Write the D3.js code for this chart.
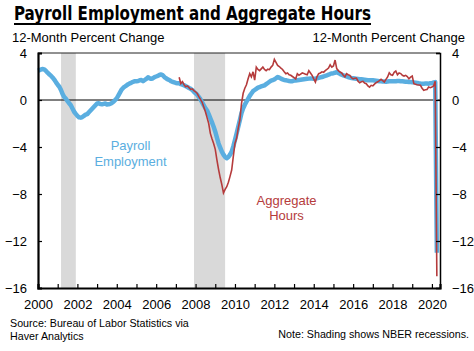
<!DOCTYPE html>
<html>
<head>
<meta charset="utf-8">
<script src="https://cdn.jsdelivr.net/npm/d3@7"></script>
<style>
  body { margin: 0; background: #fff; }
  svg { display: block; font-family: "Liberation Sans", Arial, sans-serif; }
</style>
</head>
<body>
<div id="chart"></div>
<script>
// monthly 12-month % change, payroll from Jan 2000, hours from Mar 2007
var payroll = [
  2.50, 2.55, 2.60, 2.64, 2.58, 2.45, 2.30, 2.17, 2.05, 1.90, 1.72, 1.50,
  1.30, 1.13, 0.85, 0.50, 0.25, 0.10, -0.10, -0.28, -0.45, -0.72, -1.00, -1.18,
  -1.35, -1.48, -1.50, -1.45, -1.35, -1.25, -1.20, -1.05, -0.90, -0.75, -0.60, -0.45,
  -0.30, -0.28, -0.35, -0.37, -0.33, -0.30, -0.38, -0.37, -0.33, -0.25, -0.15, 0.00,
  0.15, 0.40, 0.65, 0.90, 1.05, 1.15, 1.25, 1.35, 1.42, 1.48, 1.55, 1.60,
  1.60, 1.62, 1.68, 1.70, 1.60, 1.70, 1.80, 1.93, 1.85, 1.80, 1.85, 1.95,
  2.00, 2.05, 2.13, 2.18, 2.10, 1.95, 1.85, 1.76, 1.70, 1.60, 1.55, 1.50,
  1.45, 1.42, 1.42, 1.35, 1.30, 1.25, 1.18, 1.10, 1.02, 0.95, 0.85, 0.70,
  0.57, 0.45, 0.25, 0.05, -0.20, -0.45, -0.70, -0.90, -1.20, -1.55, -1.90, -2.27,
  -2.70, -3.20, -3.70, -4.05, -4.40, -4.65, -4.85, -4.96, -4.85, -4.65, -4.40, -3.95,
  -3.40, -2.85, -2.27, -1.70, -1.10, -0.70, -0.40, -0.15, 0.10, 0.35, 0.55, 0.75,
  0.85, 0.95, 1.05, 1.10, 1.15, 1.20, 1.25, 1.35, 1.45, 1.55, 1.65, 1.70,
  1.75, 1.85, 1.96, 1.90, 1.82, 1.76, 1.70, 1.68, 1.65, 1.62, 1.60, 1.60,
  1.65, 1.66, 1.68, 1.70, 1.72, 1.74, 1.76, 1.78, 1.80, 1.82, 1.84, 1.82,
  1.80, 1.82, 1.85, 1.88, 1.92, 1.96, 2.00, 2.05, 2.10, 2.15, 2.22, 2.26,
  2.28, 2.32, 2.38, 2.30, 2.22, 2.15, 2.10, 2.05, 2.00, 1.95, 1.90, 1.87,
  1.85, 1.83, 1.80, 1.78, 1.76, 1.76, 1.74, 1.72, 1.70, 1.68, 1.68, 1.68,
  1.68, 1.66, 1.64, 1.62, 1.60, 1.60, 1.58, 1.58, 1.56, 1.58, 1.60, 1.59,
  1.59, 1.60, 1.60, 1.62, 1.62, 1.60, 1.60, 1.58, 1.56, 1.55, 1.53, 1.53,
  1.52, 1.50, 1.48, 1.45, 1.42, 1.40, 1.39, 1.39, 1.40, 1.40, 1.39, 1.42,
  1.42, 1.50, 1.52, -13.0
];
var payrollStart = [2000, 0];

var hours = [
  1.93, 1.40, 1.56, 1.30, 1.13, 1.20, 1.05, 0.90, 0.95, 0.80,
  0.70, 0.55, 0.28, 0.05, -0.20, -0.60, -1.00, -1.50, -2.00, -2.84, -3.30, -3.70,
  -4.20, -5.10, -5.90, -6.60, -7.20, -7.90, -7.60, -7.38, -7.00, -6.50, -5.96, -4.80,
  -3.70, -3.26, -2.40, -1.70, -0.28, 0.57, 1.00, 1.30, 1.80, 2.24, 1.96, 2.40,
  1.70, 2.80, 2.60, 2.50, 2.65, 2.80, 2.60, 2.50, 2.62, 2.58, 2.80, 2.95,
  3.46, 3.20, 2.95, 2.85, 2.72, 2.60, 2.40, 2.24, 2.30, 2.15, 2.10, 2.00,
  1.90, 1.80, 2.24, 2.10, 2.20, 2.30, 2.25, 2.20, 2.15, 2.50, 2.30, 2.10,
  1.80, 1.53, 2.00, 2.24, 2.30, 2.40, 2.35, 2.50, 2.60, 2.72, 3.00, 2.80,
  2.90, 3.40, 2.67, 2.50, 2.38, 2.30, 2.10, 1.96, 2.24, 2.15, 2.10, 1.90,
  1.80, 1.85, 1.87, 1.60, 1.47, 1.55, 1.59, 1.45, 1.39, 1.20, 1.10, 1.25,
  1.20, 1.35, 1.47, 1.55, 1.65, 1.76, 1.65, 1.53, 1.75, 1.96, 2.32, 2.15,
  2.10, 2.35, 2.47, 2.15, 2.30, 2.25, 2.10, 2.04, 2.10, 2.00, 1.80, 1.95,
  2.04, 1.39, 1.35, 1.30, 1.28, 1.25, 1.00, 0.82, 0.88, 0.90, 1.10, 1.05,
  1.10, 1.20, 1.60, -15.0
];
var hoursStart = [2007, 2];

var recessions = [[2001.17, 2001.92], [2007.92, 2009.5]];
var yTicks = [-16, -12, -8, -4, 0, 4];
var yearTicks = d3.range(2000, 2021);
var yearLabels = d3.range(2000, 2021, 2);

var width = 474, height = 351;
var margin = { top: 53, right: 34, bottom: 63, left: 38 };

var x = d3.scaleLinear().domain([2000, 2020.41]).range([margin.left, width - margin.right]);
var y = d3.scaleLinear().domain([-16, 4]).range([height - margin.bottom, margin.top]);

var toPoints = (vals, start) => vals.map((v, i) => ({ t: start[0] + (start[1] + i) / 12, v: v }));

var blue = "#5aaee0", red = "#b53b3c";

var svg = d3.select("#chart").append("svg")
    .attr("width", width)
    .attr("height", height);

// title
svg.append("text")
    .attr("x", 14).attr("y", 20)
    .attr("font-family", "'DejaVu Sans Condensed', 'DejaVu Sans', sans-serif")
    .attr("font-weight", "bold")
    .attr("font-size", 19)
    .attr("textLength", 357)
    .attr("lengthAdjust", "spacingAndGlyphs")
    .text("Payroll Employment and Aggregate Hours");
svg.append("line")
    .attr("x1", 14).attr("x2", 371)
    .attr("y1", 24).attr("y2", 24)
    .attr("stroke", "#000").attr("stroke-width", 2);

svg.append("text").attr("x", 12).attr("y", 42).attr("font-size", 13)
    .text("12-Month Percent Change");
svg.append("text").attr("x", 465).attr("y", 42).attr("font-size", 13)
    .attr("text-anchor", "end")
    .text("12-Month Percent Change");

// recession shading
svg.append("g").selectAll("rect")
    .data(recessions)
    .enter().append("rect")
    .attr("x", d => x(d[0]))
    .attr("width", d => x(d[1]) - x(d[0]))
    .attr("y", y(4))
    .attr("height", y(-16) - y(4))
    .attr("fill", "#d9d9d9");

// zero line
svg.append("line")
    .attr("x1", x.range()[0]).attr("x2", x.range()[1])
    .attr("y1", y(0)).attr("y2", y(0))
    .attr("stroke", "#000").attr("stroke-width", 1);

var line = d3.line().x(d => x(d.t)).y(d => y(d.v));

svg.append("path")
    .datum(toPoints(payroll, payrollStart))
    .attr("fill", "none")
    .attr("stroke", blue)
    .attr("stroke-width", 4.5)
    .attr("stroke-linejoin", "round")
    .attr("d", line);

svg.append("path")
    .datum(toPoints(hours, hoursStart))
    .attr("fill", "none")
    .attr("stroke", red)
    .attr("stroke-width", 1.6)
    .attr("d", line);

// frame
svg.append("line")
    .attr("x1", x.range()[0]).attr("x2", x.range()[1])
    .attr("y1", y(4)).attr("y2", y(4))
    .attr("stroke", "#222").attr("stroke-width", 1);

svg.append("g")
    .attr("transform", `translate(${x.range()[0]},0)`)
    .call(d3.axisLeft(y).tickValues(yTicks).tickSize(-4).tickPadding(11))
    .call(g => g.select(".domain").attr("stroke-width", 2.2))
    .call(g => g.selectAll(".tick line").attr("stroke-width", 1.2))
    .call(g => g.selectAll("text").attr("font-size", 13).attr("font-family", "Liberation Sans, Arial, sans-serif"));

svg.append("g")
    .attr("transform", `translate(${x.range()[1]},0)`)
    .call(d3.axisRight(y).tickValues(yTicks).tickSize(-4).tickPadding(12))
    .call(g => g.select(".domain").attr("stroke-width", 1.5))
    .call(g => g.selectAll(".tick line").attr("stroke-width", 1.2))
    .call(g => g.selectAll("text").attr("font-size", 13).attr("font-family", "Liberation Sans, Arial, sans-serif"));

svg.append("g")
    .attr("transform", `translate(0,${y(-16)})`)
    .call(d3.axisBottom(x).tickValues(yearTicks).tickSize(-4).tickPadding(12)
        .tickFormat(d => yearLabels.includes(d) ? d : ""))
    .call(g => g.select(".domain").attr("stroke-width", 2.2))
    .call(g => g.selectAll(".tick line").attr("stroke-width", 1.2))
    .call(g => g.selectAll("text").attr("font-size", 13).attr("font-family", "Liberation Sans, Arial, sans-serif"));

// series labels
svg.append("text").attr("x", 130.5).attr("y", 150).attr("text-anchor", "middle")
    .attr("font-size", 13).attr("fill", blue).text("Payroll");
svg.append("text").attr("x", 130.5).attr("y", 166).attr("text-anchor", "middle")
    .attr("font-size", 13).attr("fill", blue).text("Employment");
svg.append("text").attr("x", 286.5).attr("y", 205).attr("text-anchor", "middle")
    .attr("font-size", 13).attr("fill", red).text("Aggregate");
svg.append("text").attr("x", 286.5).attr("y", 220).attr("text-anchor", "middle")
    .attr("font-size", 13).attr("fill", red).text("Hours");

// notes
svg.append("text").attr("x", 10).attr("y", 327).attr("font-size", 10.7)
    .text("Source: Bureau of Labor Statistics via");
svg.append("text").attr("x", 10).attr("y", 340).attr("font-size", 10.7)
    .text("Haver Analytics");
svg.append("text").attr("x", 469).attr("y", 338).attr("font-size", 10.7)
    .attr("text-anchor", "end")
    .text("Note: Shading shows NBER recessions.");
</script>
</body>
</html>
